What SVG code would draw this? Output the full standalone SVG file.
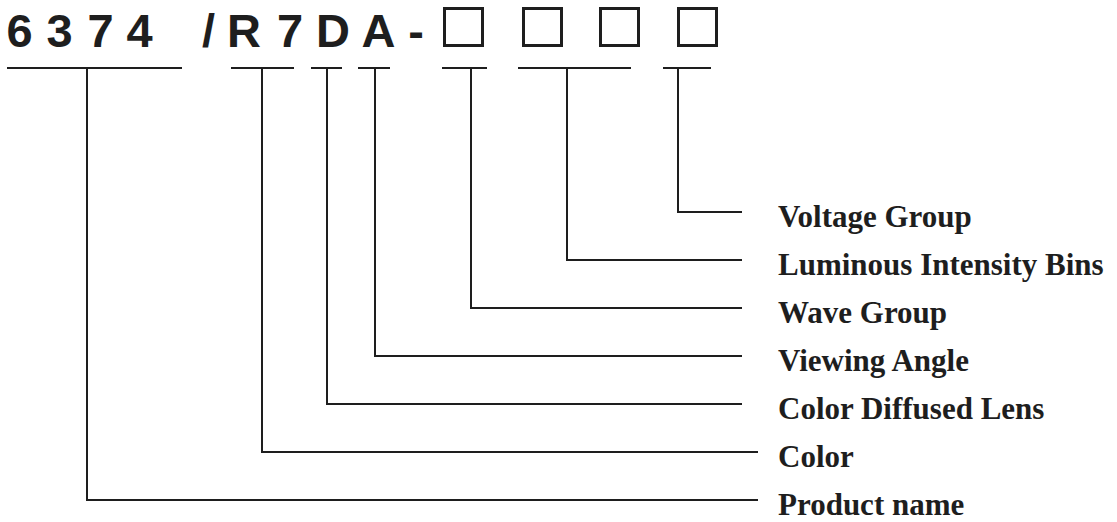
<svg xmlns="http://www.w3.org/2000/svg" width="1117" height="522" viewBox="0 0 1117 522">
<style>
.code{font-family:"Liberation Sans",Arial,sans-serif;font-weight:bold;font-size:47px;fill:#1e1e1e;text-anchor:middle}
.lbl{font-family:"Liberation Serif","Times New Roman",serif;font-weight:bold;font-size:31px;fill:#1e1e1e}
.box{fill:none;stroke:#1e1e1e;stroke-width:3}
.ln{fill:none;stroke:#1e1e1e;stroke-width:2}
</style>
<rect width="1117" height="522" fill="#fff"/>
<g id="code">
<text class="code" x="19.5" y="47">6</text>
<text class="code" x="59.5" y="47">3</text>
<text class="code" x="100.5" y="47">7</text>
<text class="code" x="139.5" y="47">4</text>
<text class="code" x="208.5" y="47">/</text>
<text class="code" x="244" y="47">R</text>
<text class="code" x="290" y="47">7</text>
<text class="code" x="333" y="47">D</text>
<text class="code" x="378.5" y="47">A</text>
<text class="code" x="416" y="47">-</text>
<rect class="box" x="444.5" y="8.5" width="38" height="37"/>
<rect class="box" x="523.5" y="8.5" width="38" height="37"/>
<rect class="box" x="600.5" y="8.5" width="38" height="37"/>
<rect class="box" x="678.5" y="8.5" width="38" height="37"/>
</g>
<g id="underlines">
<line class="ln" x1="7" y1="68" x2="182" y2="68"/>
<line class="ln" x1="231" y1="68" x2="294" y2="68"/>
<line class="ln" x1="311" y1="68" x2="342" y2="68"/>
<line class="ln" x1="358" y1="68" x2="390" y2="68"/>
<line class="ln" x1="442" y1="68" x2="487" y2="68"/>
<line class="ln" x1="518" y1="68" x2="631" y2="68"/>
<line class="ln" x1="663" y1="68" x2="711" y2="68"/>
</g>
<g id="connectors">
<polyline class="ln" points="87,68 87,500 758,500"/>
<polyline class="ln" points="262,68 262,452 758,452"/>
<polyline class="ln" points="327,68 327,404 742,404"/>
<polyline class="ln" points="375,68 375,356 742,356"/>
<polyline class="ln" points="471,68 471,308 742,308"/>
<polyline class="ln" points="567,68 567,260 742,260"/>
<polyline class="ln" points="678,68 678,212 742,212"/>
</g>
<g id="label-voltage"><text class="lbl" x="778" y="227">Voltage Group</text></g>
<g id="label-luminous"><text class="lbl" x="778" y="275">Luminous Intensity Bins</text></g>
<g id="label-wave"><text class="lbl" x="778" y="323">Wave Group</text></g>
<g id="label-viewing"><text class="lbl" x="778" y="371">Viewing Angle</text></g>
<g id="label-lens"><text class="lbl" x="778" y="419">Color Diffused Lens</text></g>
<g id="label-color"><text class="lbl" x="778" y="467">Color</text></g>
<g id="label-product"><text class="lbl" x="778" y="515">Product name</text></g>
</svg>
